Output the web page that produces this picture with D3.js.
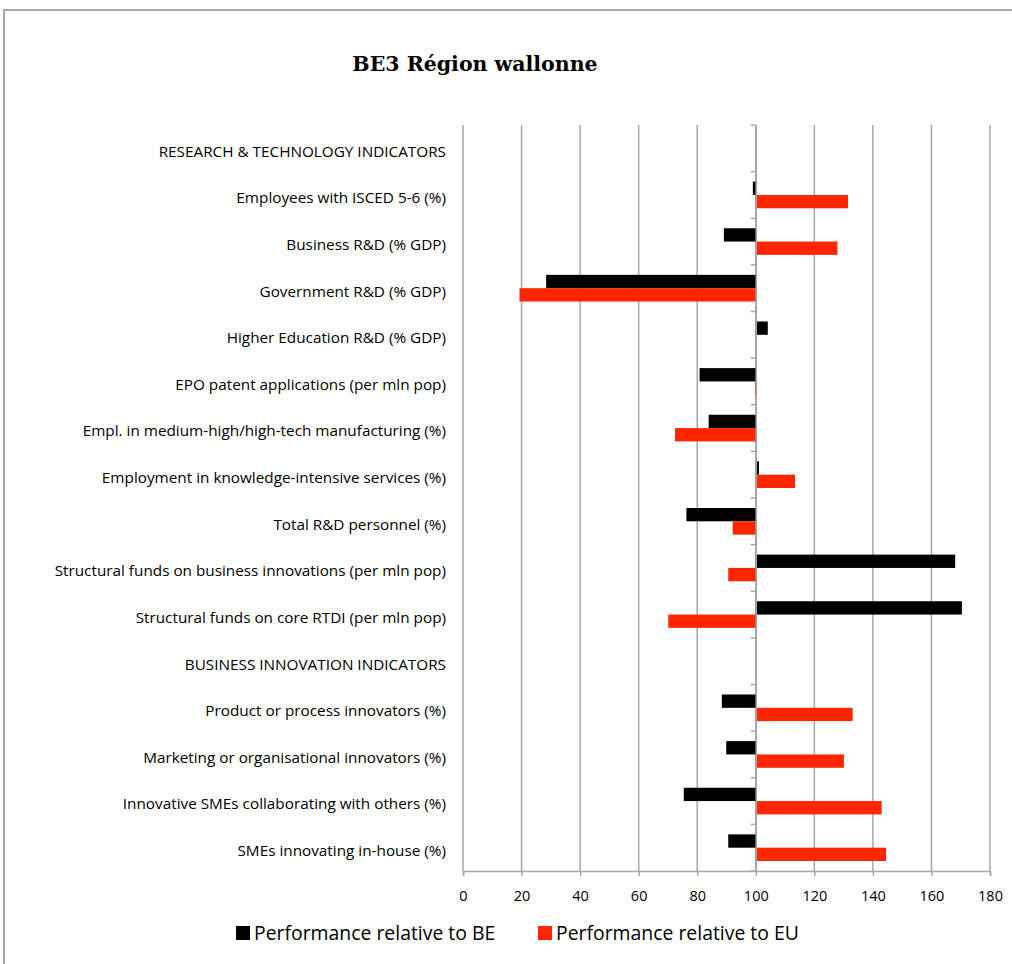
<!DOCTYPE html>
<html><head><meta charset="utf-8">
<script src="https://cdn.jsdelivr.net/npm/d3@7"></script>
<style>body{margin:0;background:#fff}svg{display:block}</style>
</head><body>
<svg id="chart" width="1012" height="964"></svg>
<script>
const title = "BE3 Région wallonne";
const categories = [
  "RESEARCH & TECHNOLOGY INDICATORS",
  "Employees with ISCED 5-6 (%)",
  "Business R&D (% GDP)",
  "Government R&D (% GDP)",
  "Higher Education R&D (% GDP)",
  "EPO patent applications (per mln pop)",
  "Empl. in medium-high/high-tech manufacturing (%)",
  "Employment in knowledge-intensive services (%)",
  "Total R&D personnel (%)",
  "Structural funds on business innovations (per mln pop)",
  "Structural funds on core RTDI (per mln pop)",
  "BUSINESS INNOVATION INDICATORS",
  "Product or process innovators (%)",
  "Marketing or organisational innovators (%)",
  "Innovative SMEs collaborating with others (%)",
  "SMEs innovating in-house (%)"
];
const seriesNames = ["Performance relative to BE", "Performance relative to EU"];
const beValues = [null, 99, 89.1, 28.4, 104.1, 80.8, 83.9, 101.1, 76.3, 168.1, 170.4, null, 88.4, 89.9, 75.4, 90.6];
const euValues = [null, 131.5, 127.9, 19.3, null, 99.7, 72.4, 113.4, 92.1, 90.6, 70.1, null, 133.1, 130.1, 143.0, 144.5];
const xTicks = [0, 20, 40, 60, 80, 100, 120, 140, 160, 180];
const baseline = 100;
const colors = ["#000000", "#ff2600"];

(function () {
const svg = d3.select("#chart");
const font = "'Open Sans', sans-serif";
// outer frame (left and top edges visible)
svg.append("path").attr("d", "M4,1000 L4,10 L1012,10")
  .attr("fill", "none").attr("stroke", "#a6a6a6").attr("stroke-width", 2);

svg.append("text").attr("x", 475).attr("y", 71).attr("text-anchor", "middle")
  .attr("font-family", "DejaVu Serif").attr("font-weight", "bold").attr("font-size", 20.5)
  .attr("fill", "#000").text(title);

const pLeft = 463, pRight = 990, pTop = 125, pBottom = 871;
const x = d3.scaleLinear().domain([0, 180]).range([pLeft, pRight]);
const y0 = d3.scaleBand().domain(categories).range([pTop, pBottom]);
const y1 = d3.scaleBand().domain(seriesNames).range([0, y0.bandwidth()]).paddingInner(0).paddingOuter(0.75);

// gridlines
svg.append("g").selectAll("line").data(xTicks).join("line")
  .attr("x1", d => x(d)).attr("x2", d => x(d)).attr("y1", pTop).attr("y2", pBottom)
  .attr("stroke", "#a6a6a6").attr("stroke-width", 1.5);

// x axis
const xAxis = svg.append("g").attr("transform", `translate(0,${pBottom})`)
  .call(d3.axisBottom(x).tickValues(xTicks).tickSize(5).tickPadding(15).tickFormat(d3.format("d")));
xAxis.select(".domain").attr("stroke", "#a6a6a6").attr("stroke-width", 1.5);
xAxis.selectAll(".tick line").attr("stroke", "#a6a6a6").attr("stroke-width", 1.5);
xAxis.selectAll("text").attr("font-family", font).attr("font-size", 14.5).attr("fill", "#000");

// bars
const seriesData = [beValues, euValues];
seriesData.forEach((vals, si) => {
  svg.append("g").selectAll("rect")
    .data(categories.map((c, i) => ({c, v: vals[i]})).filter(d => d.v !== null))
    .join("rect")
    .attr("x", d => x(Math.min(d.v, baseline)))
    .attr("width", d => Math.abs(x(d.v) - x(baseline)))
    .attr("y", d => y0(d.c) + y1(seriesNames[si]))
    .attr("height", y1.bandwidth())
    .attr("fill", colors[si]);
});

// vertical axis at baseline
const yAxis = svg.append("g").attr("transform", `translate(${x(baseline)},0)`)
  .call(d3.axisLeft(y0).tickSize(0).tickFormat(""));
yAxis.select(".domain").attr("stroke", "#a6a6a6").attr("stroke-width", 1.5);
const bounds = categories.map(c => y0(c)).concat([pBottom]);
svg.append("g").selectAll("line").data(bounds).join("line")
  .attr("x1", x(baseline) - 5).attr("x2", x(baseline)).attr("y1", d => d).attr("y2", d => d)
  .attr("stroke", "#a6a6a6").attr("stroke-width", 1.5);

// category labels
svg.append("g").selectAll("text").data(categories).join("text")
  .attr("x", 446).attr("y", d => y0(d) + y0.bandwidth() / 2 + 3)
  .attr("dy", "0.35em").attr("text-anchor", "end")
  .attr("font-family", font).attr("font-size", 15.3).attr("fill", "#000")
  .text(d => d);

// legend
const legendX = [236, 538];
const lg = svg.append("g").selectAll("g").data(seriesNames).join("g")
  .attr("transform", (d, i) => `translate(${legendX[i]},926)`);
lg.append("rect").attr("width", 14).attr("height", 14).attr("fill", (d, i) => colors[i]);
lg.append("text").attr("x", 18).attr("y", 7).attr("dy", "0.35em")
  .attr("font-family", font).attr("font-size", 19.4).attr("fill", "#000").text(d => d);
})();
</script>
</body></html>
